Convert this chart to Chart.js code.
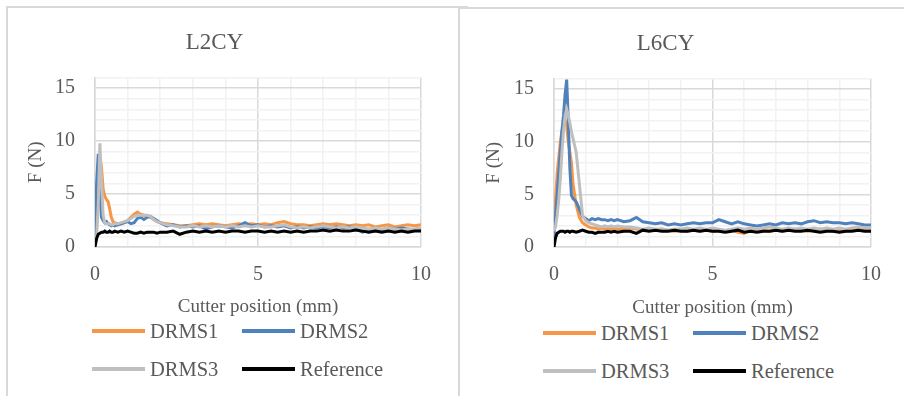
<!DOCTYPE html>
<html>
<head>
<meta charset="utf-8">
<script src="https://cdn.jsdelivr.net/npm/chart.js@4.4.0/dist/chart.umd.min.js"></script>
<style>
  body { margin: 0; background: #fff; width: 904px; height: 396px; overflow: hidden; position: relative;
         font-family: "Liberation Serif", "Times New Roman", serif; }
  .panel { position: absolute; border-left: 2px solid #d9d9d9; border-top: 2px solid #d9d9d9; background: #fff; }
  #p1 { left: 6px; top: 6px; width: 460px; height: 400px; }
  #p2 { left: 458px; top: 7px; width: 460px; height: 400px; }
  canvas { position: absolute; }
  .item { position: absolute; height: 24px; display: flex; align-items: center; white-space: nowrap;
          font-family: "Liberation Serif", serif; font-size: 20.5px; color: #595959; }
  .item span { display: inline-block; width: 53px; height: 3.5px; margin-right: 5px; }
</style>
</head>
<body>
<div class="panel" id="p1"></div>
<div class="panel" id="p2"></div>
<canvas id="c1" width="450" height="312" style="left:8px;top:8px"></canvas>
<canvas id="c2" width="450" height="312" style="left:460px;top:9px"></canvas>
<div id="legends"></div>
<script>
// Cutter position (mm), shared by all series
const positions = [0, 0.05, 0.1, 0.15, 0.2, 0.25, 0.3, 0.35, 0.4, 0.45, 0.5, 0.55, 0.6,
    0.7, 0.8, 0.9, 1.0, 1.1, 1.2, 1.3, 1.4, 1.5, 1.6, 1.7, 1.8, 1.9, 2.0,
    2.2, 2.4, 2.6, 2.8, 3.0, 3.2, 3.4, 3.6, 3.8, 4.0,
    4.2, 4.4, 4.6, 4.8, 5.0, 5.2, 5.4, 5.6, 5.8, 6.0,
    6.2, 6.4, 6.6, 6.8, 7.0, 7.2, 7.4, 7.6, 7.8, 8.0,
    8.2, 8.4, 8.6, 8.8, 9.0, 9.2, 9.4, 9.6, 9.8, 10.0];

const seriesNames = ['DRMS1', 'DRMS2', 'DRMS3', 'Reference'];
const xTicks = [0, 5, 10];
const yTicks = [0, 5, 10, 15];

// L2CY
const l2Drms1 = [0.3, 2.0, 5.0, 8.5, 7.5, 5.5, 4.8, 4.5, 4.3, 3.6, 2.8, 2.4, 2.3,
    2.2, 2.2, 2.3, 2.5, 2.8, 3.1, 3.3, 3.1, 3.0, 2.9, 2.8, 2.6, 2.4, 2.3,
    2.2, 2.1, 2.0, 2.0, 2.1, 2.2, 2.1, 2.2, 2.1, 2.0,
    2.1, 2.2, 2.1, 2.2, 2.1, 2.2, 2.1, 2.3, 2.4, 2.2,
    2.1, 2.1, 2.0, 2.1, 2.2, 2.1, 2.2, 2.1, 2.0, 2.1,
    2.0, 2.1, 1.9, 2.0, 2.1, 1.9, 2.0, 2.1, 2.0, 2.1];
const l2Drms2 = [0.5, 6.0, 8.8, 5.0, 2.8, 2.5, 2.3, 2.4, 2.2, 2.1, 2.0, 2.1, 2.0,
    2.1, 2.2, 2.3, 2.4, 2.2, 2.3, 2.7, 2.8, 2.6, 2.8, 2.9, 2.7, 2.5, 2.3,
    2.0, 2.1, 1.9, 2.0, 1.9, 2.0, 1.7, 1.9, 2.0, 1.9,
    1.8, 2.0, 2.3, 2.0, 2.1, 1.9, 2.0, 1.9, 2.0, 1.8,
    1.9, 1.8, 1.9, 1.8, 1.9, 1.8, 1.9, 1.8, 1.9, 1.7,
    1.4, 1.6, 1.7, 1.6, 1.8, 1.7, 1.8, 1.7, 1.6, 1.7];
const l2Drms3 = [0.3, 1.0, 4.0, 9.8, 6.0, 3.0, 2.3, 2.2, 2.2, 2.2, 2.1, 2.1, 2.2,
    2.2, 2.3, 2.4, 2.5, 2.7, 2.9, 3.0, 3.0, 3.0, 3.0, 2.9, 2.6, 2.4, 2.3,
    2.1, 2.0, 1.9, 1.9, 2.0, 1.9, 2.0, 1.9, 2.0, 1.9,
    2.0, 1.9, 2.0, 1.9, 2.0, 1.9, 1.9, 2.0, 2.1, 1.9,
    1.8, 1.9, 1.8, 1.9, 2.0, 1.9, 1.8, 1.9, 1.8, 1.9,
    1.8, 1.7, 1.8, 1.7, 1.8, 1.7, 1.6, 1.7, 1.7, 1.8];
const l2Ref = [0.0, 0.8, 1.2, 1.3, 1.4, 1.4, 1.5, 1.4, 1.4, 1.5, 1.4, 1.4, 1.5,
    1.4, 1.5, 1.4, 1.5, 1.4, 1.3, 1.3, 1.4, 1.3, 1.4, 1.4, 1.4, 1.3, 1.4,
    1.4, 1.5, 1.2, 1.4, 1.5, 1.4, 1.5, 1.4, 1.5, 1.4,
    1.5, 1.5, 1.4, 1.5, 1.5, 1.4, 1.5, 1.4, 1.5, 1.4,
    1.5, 1.4, 1.5, 1.5, 1.6, 1.5, 1.6, 1.5, 1.5, 1.6,
    1.5, 1.4, 1.5, 1.4, 1.5, 1.4, 1.5, 1.4, 1.5, 1.5];

// L6CY
const l6Drms1 = [1.5, 4.5, 7.0, 8.5, 10.0, 11.0, 11.6, 12.0, 11.5, 10.0, 9.0, 8.0, 6.0,
    4.0, 2.8, 2.3, 2.1, 1.9, 1.8, 1.8, 1.7, 1.8, 1.7, 1.8, 1.7, 1.8, 1.7,
    1.7, 1.8, 1.7, 1.6, 1.7, 1.6, 1.7, 1.6, 1.5, 1.6,
    1.5, 1.6, 1.5, 1.6, 1.5, 1.6, 1.5, 1.6, 1.4, 1.3,
    1.6, 1.5, 1.6, 1.5, 1.6, 1.5, 1.6, 1.7, 1.6, 1.5,
    1.6, 1.7, 1.6, 1.5, 1.6, 1.5, 1.6, 1.7, 1.6, 1.7];
const l6Drms2 = [1.0, 3.0, 5.0, 7.0, 9.0, 11.0, 12.5, 14.5, 15.9, 12.0, 7.5, 4.9, 4.6,
    4.3, 3.6, 2.9, 2.7, 2.5, 2.7, 2.6, 2.7, 2.6, 2.6, 2.5, 2.6, 2.5, 2.6,
    2.4, 2.5, 2.8, 2.4, 2.3, 2.2, 2.3, 2.1, 2.2, 2.1,
    2.2, 2.3, 2.2, 2.3, 2.3, 2.6, 2.4, 2.2, 2.4, 2.2,
    2.1, 2.0, 2.1, 2.2, 2.1, 2.3, 2.2, 2.3, 2.2, 2.4,
    2.5, 2.3, 2.4, 2.3, 2.3, 2.2, 2.3, 2.2, 2.1, 2.1];
const l6Drms3 = [1.5, 2.0, 3.0, 4.5, 6.5, 9.0, 11.0, 12.5, 13.1, 12.5, 11.8, 11.0, 10.3,
    9.0, 6.0, 3.0, 2.5, 2.3, 2.2, 2.1, 2.0, 1.9, 2.0, 1.9, 2.0, 1.9, 2.0,
    1.9, 1.9, 1.8, 1.7, 1.8, 1.7, 1.7, 1.6, 1.7, 1.7,
    1.8, 1.7, 1.8, 1.7, 1.8, 1.7, 1.6, 1.7, 1.8, 1.7,
    1.8, 1.7, 1.8, 1.9, 1.8, 1.7, 1.8, 1.7, 1.8, 1.7,
    1.8, 1.7, 1.8, 1.7, 1.8, 1.7, 1.8, 1.9, 1.8, 1.8];
const l6Ref = [0.0, 0.9, 1.3, 1.4, 1.5, 1.5, 1.5, 1.4, 1.5, 1.5, 1.4, 1.5, 1.5,
    1.4, 1.5, 1.6, 1.5, 1.4, 1.4, 1.3, 1.4, 1.4, 1.4, 1.5, 1.4, 1.5, 1.4,
    1.5, 1.5, 1.3, 1.6, 1.5, 1.6, 1.5, 1.5, 1.6, 1.5,
    1.5, 1.6, 1.5, 1.6, 1.5, 1.5, 1.4, 1.5, 1.6, 1.4,
    1.5, 1.4, 1.5, 1.5, 1.6, 1.5, 1.6, 1.5, 1.5, 1.6,
    1.5, 1.4, 1.5, 1.5, 1.4, 1.5, 1.5, 1.6, 1.5, 1.5];

const seriesColors = ['#F79646', '#4F81BD', '#BFBFBF', '#000000'];
const textColor = '#595959';
const font = 'Liberation Serif';

function makeChart(id, title, series, yAxisWidth, yTitlePad, rightPad, xAxisHeight) {
    const ctx = document.getElementById(id).getContext('2d');
    return new Chart(ctx, {
        type: 'line',
        data: {
            datasets: series.map((vals, i) => ({
                label: seriesNames[i],
                data: positions.map((x, j) => ({ x: x, y: vals[j] })),
                borderColor: seriesColors[i],
                backgroundColor: seriesColors[i],
                borderWidth: 3,
                pointRadius: 0,
                tension: 0,
                order: 4 - i
            }))
        },
        options: {
            responsive: false,
            animation: false,
            layout: { padding: { left: 0, right: rightPad, top: 0, bottom: 0 } },
            plugins: {
                legend: { display: false },
                tooltip: { enabled: false },
                title: {
                    display: true, text: title, color: textColor,
                    font: { family: font, size: 23, weight: 'normal' },
                    padding: { top: 21, bottom: 21 }
                }
            },
            scales: {
                x: {
                    type: 'linear', min: 0, max: 10,
                    afterFit: s => { s.height = xAxisHeight; },
                    ticks: {
                        stepSize: 1, autoSkip: false, maxRotation: 0, padding: 16,
                        color: textColor, font: { family: font, size: 20 },
                        callback: v => xTicks.includes(v) ? String(v) : ''
                    },
                    grid: {
                        drawTicks: false, lineWidth: 1.5,
                        color: c => (c.tick && c.tick.value % 5 === 0) ? '#d9d9d9' : '#f2f2f2'
                    },
                    border: { color: '#d9d9d9', width: 1.5 },
                    title: {
                        display: true, text: 'Cutter position (mm)', color: textColor,
                        font: { family: font, size: 19 }, padding: { top: 0, bottom: 2 }
                    }
                },
                y: {
                    min: 0, max: 16,
                    afterFit: s => { s.width = yAxisWidth; },
                    ticks: {
                        stepSize: 1, autoSkip: false, padding: 20,
                        color: textColor, font: { family: font, size: 20 },
                        callback: v => yTicks.includes(v) ? String(v) : ''
                    },
                    grid: {
                        drawTicks: false, lineWidth: 1.5,
                        color: c => (c.tick && c.tick.value % 5 === 0) ? '#d9d9d9' : '#f2f2f2'
                    },
                    border: { color: '#d9d9d9', width: 1.5 },
                    title: {
                        display: true, text: 'F (N)', color: textColor,
                        font: { family: font, size: 19 }, padding: { top: yTitlePad, bottom: 0 }
                    }
                }
            }
        }
    });
}

makeChart('c1', 'L2CY', [l2Drms1, l2Drms2, l2Drms3, l2Ref], 87, 17, 37, 73);
makeChart('c2', 'L6CY', [l6Drms1, l6Drms2, l6Drms3, l6Ref], 94, 23, 39, 74);

// legends in two columns, like the original
function addLegend(x0, y0) {
    const box = document.getElementById('legends');
    seriesNames.forEach((name, i) => {
        const el = document.createElement('div');
        el.className = 'item';
        el.style.left = (x0 + (i % 2) * 150) + 'px';
        el.style.top = (y0 + Math.floor(i / 2) * 38 - 12) + 'px';
        el.innerHTML = '<span style="background:' + seriesColors[i] + '"></span>' + name;
        box.appendChild(el);
    });
}
addLegend(92, 331);
addLegend(543, 333);
</script>
</body>
</html>
